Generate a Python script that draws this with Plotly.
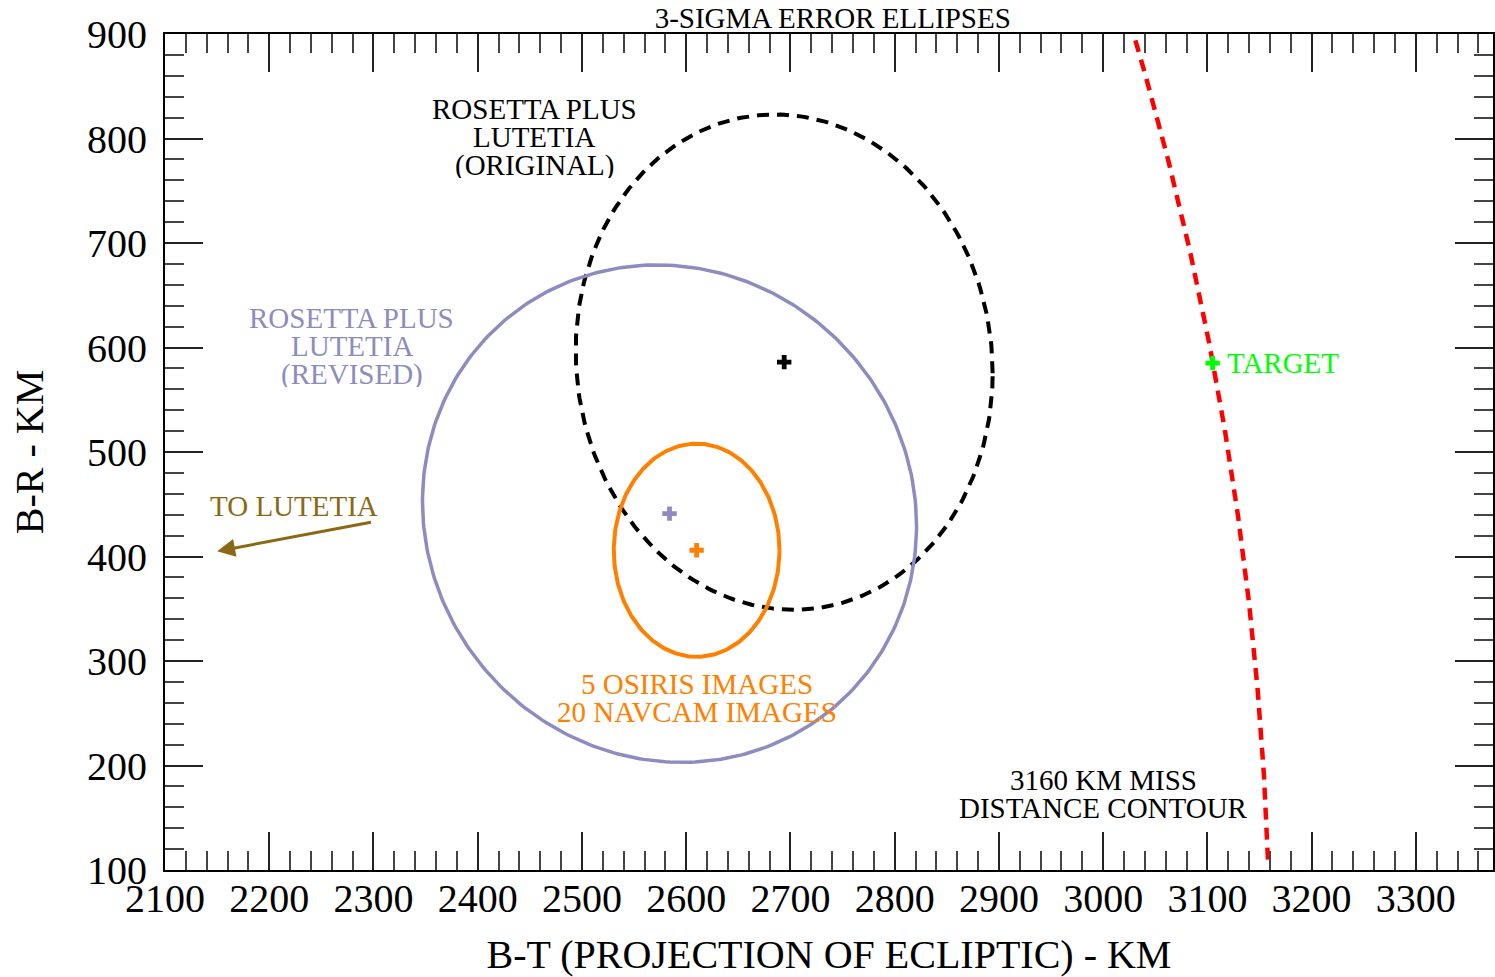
import numpy as np
import plotly.graph_objects as go

# ---- data (km) ----
# 3-sigma error ellipses: centre, half-width, half-height, B-T/B-R correlation
ellipse_names = ["original", "revised", "images"]
ellipse_bt_center = [2694, 2584, 2610]
ellipse_br_center = [586, 441, 406]
ellipse_bt_halfwidth = [200, 237, 79.5]
ellipse_br_halfheight = [237, 238, 102]
ellipse_correlation = [-0.045, -0.05, 0.0]

# miss-distance contour and target
miss_distance_km = 3160
contour_br_limits = [110, 895]
target_bt = 3105
target_br = 585

# direction to Lutetia (arrow tail -> head)
lutetia_arrow_bt = [2299, 2150]
lutetia_arrow_br = [433, 405]

# axis ticks
x_ticks = list(range(2100, 3301, 100))
y_ticks = list(range(100, 901, 100))

# ---- styling ----
FONT = "Liberation Serif"
BLACK = "#000000"
PURPLE = "#8c8cc0"
ORANGE = "#ff8000"
GREEN = "#00ff00"
RED = "#ff0000"
BROWN = "#8b6914"
LABEL_SIZE = 29
LINE_STEP = 28

ellipse_styles = [
    dict(color=BLACK, width=4, dash="12px,8px"),
    dict(color=PURPLE, width=3.5, dash="solid"),
    dict(color=ORANGE, width=4, dash="solid"),
]

fig = go.Figure()


def ellipse_outline(cx, cy, sx, sy, rho, n=361):
    t = np.linspace(0, 2 * np.pi, n)
    x = cx + sx * np.cos(t)
    y = cy + sy * (rho * np.cos(t) + np.sqrt(1 - rho ** 2) * np.sin(t))
    return x, y


for i, name in enumerate(ellipse_names):
    ex, ey = ellipse_outline(ellipse_bt_center[i], ellipse_br_center[i],
                             ellipse_bt_halfwidth[i], ellipse_br_halfheight[i],
                             ellipse_correlation[i])
    fig.add_trace(go.Scatter(x=ex, y=ey, mode="lines", line=ellipse_styles[i],
                             hoverinfo="skip", showlegend=False, name=name))

# centre markers
for i, col in enumerate([BLACK, PURPLE, ORANGE]):
    fig.add_trace(go.Scatter(x=[ellipse_bt_center[i]], y=[ellipse_br_center[i]],
                             mode="markers",
                             marker=dict(symbol="cross", size=12, color=col,
                                         line=dict(width=0)),
                             showlegend=False))

# miss-distance contour: |B| = 3160 km
br_c = np.linspace(contour_br_limits[0], contour_br_limits[1], 200)
bt_c = np.sqrt(miss_distance_km ** 2 - br_c ** 2)
fig.add_trace(go.Scatter(x=bt_c, y=br_c, mode="lines",
                         line=dict(color=RED, width=4.5, dash="12px,8px"),
                         showlegend=False))

# target
fig.add_trace(go.Scatter(x=[target_bt], y=[target_br], mode="markers",
                         marker=dict(symbol="cross", size=12, color=GREEN,
                                     line=dict(width=0)),
                         showlegend=False))


def add_lines(lines, x, y, color, size=LABEL_SIZE, xanchor="center"):
    n = len(lines)
    for k, txt in enumerate(lines):
        shift = ((n - 1) / 2 - k) * LINE_STEP
        fig.add_annotation(x=x, y=y, xref="x", yref="y", text=txt,
                           showarrow=False, yshift=shift, xanchor=xanchor,
                           yanchor="middle", height=LINE_STEP - 2,
                           borderpad=0,
                           font=dict(family=FONT, size=size, color=color))


add_lines(["ROSETTA PLUS", "LUTETIA", "(ORIGINAL)"], 2454, 801, BLACK)
add_lines(["ROSETTA PLUS", "LUTETIA", "(REVISED)"], 2279, 601, PURPLE)
add_lines(["5 OSIRIS IMAGES", "20 NAVCAM IMAGES"], 2610, 265, ORANGE)
add_lines(["3160 KM MISS", "DISTANCE CONTOUR"], 3000, 173, BLACK)
add_lines(["TO LUTETIA"], 2224, 448, BROWN)
add_lines(["TARGET"], 3118, target_br, GREEN, xanchor="left")

# arrow toward Lutetia
fig.add_annotation(x=lutetia_arrow_bt[1], y=lutetia_arrow_br[1],
                   ax=lutetia_arrow_bt[0], ay=lutetia_arrow_br[0],
                   xref="x", yref="y", axref="x", ayref="y", text="",
                   showarrow=True, arrowhead=2, arrowsize=1.2, arrowwidth=3,
                   arrowcolor=BROWN, standoff=0, startstandoff=0)

axis_common = dict(
    ticks="inside", ticklen=38, tickwidth=1.5, tickcolor="#222",
    showline=True, linewidth=2, linecolor=BLACK, mirror="ticks",
    showgrid=False, zeroline=False,
    tickfont=dict(family=FONT, size=40, color=BLACK),
    title_font=dict(family=FONT, size=40, color=BLACK),
)

fig.update_xaxes(
    range=[2100, 3374], tickvals=x_ticks, ticktext=[str(v) for v in x_ticks],
    minor=dict(dtick=20, tick0=2100, ticks="inside", ticklen=19,
               tickwidth=1.5, tickcolor="#444"),
    ticklabelstandoff=-8,
    title_text="B-T (PROJECTION OF ECLIPTIC) - KM", title_standoff=27,
    **axis_common)
fig.update_yaxes(
    range=[100, 900], tickvals=y_ticks, ticktext=[str(v) for v in y_ticks],
    minor=dict(dtick=20, tick0=100, ticks="inside", ticklen=19,
               tickwidth=1.5, tickcolor="#444"),
    ticklabelstandoff=8,
    title_text="B-R - KM", title_standoff=31,
    **axis_common)

fig.update_layout(
    width=1495, height=977,
    margin=dict(l=165, r=0, t=34, b=107),
    paper_bgcolor="white", plot_bgcolor="white",
    title=dict(text="3-SIGMA ERROR ELLIPSES", x=0.557, xanchor="center",
               y=1 - 18 / 977, yanchor="middle", yref="container",
               font=dict(family=FONT, size=LABEL_SIZE, color=BLACK)),
    font=dict(family=FONT),
)

fig.write_html("out.html")
